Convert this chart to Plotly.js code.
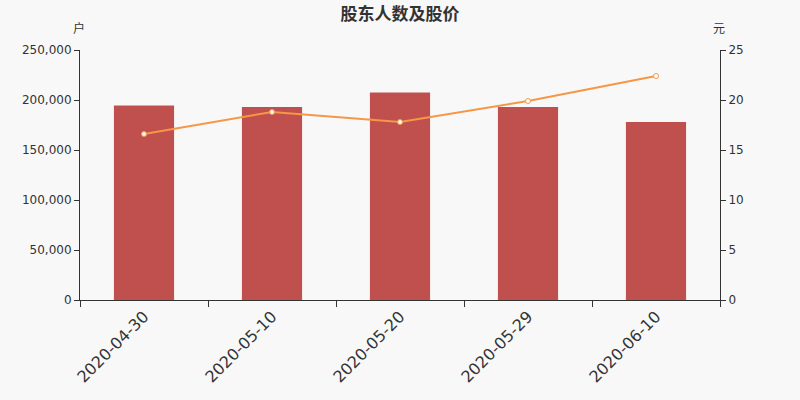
<!DOCTYPE html>
<html>
<head>
<meta charset="utf-8">
<script src="https://cdn.plot.ly/plotly-3.0.1.min.js"></script>
<style>
  body { margin: 0; background: #f8f8f8; }
  #chart { width: 800px; height: 400px; }
</style>
</head>
<body>
<div id="chart"></div>
<script>
// Dados
const datas = ["2020-04-30", "2020-05-10", "2020-05-20", "2020-05-29", "2020-06-10"];
const acionistas = [194500, 193000, 207500, 193000, 178000];
const precos = [16.6, 18.8, 17.8, 19.9, 22.4];

const fonteNum = "DejaVu Sans, Noto Sans CJK SC, sans-serif";
const fonteCJK = "Noto Sans CJK SC, DejaVu Sans, sans-serif";

//// Barras
var barras = {
    x: datas,
    y: acionistas,
    type: 'bar',
    width: 0.47,
    marker: {color: '#c0504d'},
    name: '股东人数',
    hoverinfo: 'x+y'
};

//// Linha
var linha = {
    x: datas,
    y: precos,
    yaxis: 'y2',
    mode: 'lines+markers',
    type: 'scatter',
    line: {color: '#f79646', width: 2},
    marker: {size: 5, color: '#ffffff', line: {color: '#f79646', width: 1}},
    name: '股价'
};

var layout = {
    width: 800,
    height: 400,
    paper_bgcolor: '#f8f8f8',
    plot_bgcolor: '#f8f8f8',
    showlegend: false,
    margin: { l: 80, r: 80, t: 50, b: 100 },
    title: {
        text: '<b>股东人数及股价</b>',
        font: {family: fonteCJK, size: 17, color: '#333'},
        x: 0.5, xanchor: 'center', y: 0.965, yanchor: 'middle'
    },
    font: {family: fonteNum, size: 12, color: '#333'},
    xaxis: {
        type: 'category',
        tickson: 'boundaries',
        ticks: 'outside',
        ticklen: 6,
        tickcolor: '#333',
        tickangle: -45,
        tickfont: {size: 16, color: '#333'},
        showline: true,
        linecolor: '#333',
        linewidth: 1,
        showgrid: false,
        zeroline: false
    },
    yaxis: {
        range: [0, 250000],
        dtick: 50000,
        tickformat: ',d',
        ticks: 'outside',
        ticklen: 5,
        tickcolor: '#333',
        showline: true,
        linecolor: '#333',
        showgrid: false,
        zeroline: false,
        tickfont: {size: 12, color: '#333'}
    },
    yaxis2: {
        overlaying: 'y',
        side: 'right',
        range: [0, 25],
        dtick: 5,
        ticks: 'outside',
        ticklen: 5,
        tickcolor: '#333',
        showline: true,
        linecolor: '#333',
        showgrid: false,
        zeroline: false,
        tickfont: {size: 12, color: '#333'}
    },
    annotations: [
        {text: '户', xref: 'paper', yref: 'paper', x: 0, y: 1.088, xanchor: 'right', yanchor: 'middle', showarrow: false, xshift: 7, font: {family: fonteCJK, size: 12, color: '#333'}},
        {text: '元', xref: 'paper', yref: 'paper', x: 1, y: 1.088, xanchor: 'right', yanchor: 'middle', showarrow: false, xshift: 7, font: {family: fonteCJK, size: 12, color: '#333'}}
    ]
};

Plotly.newPlot('chart', [barras, linha], layout, {displayModeBar: false, staticPlot: true});
</script>
</body>
</html>
